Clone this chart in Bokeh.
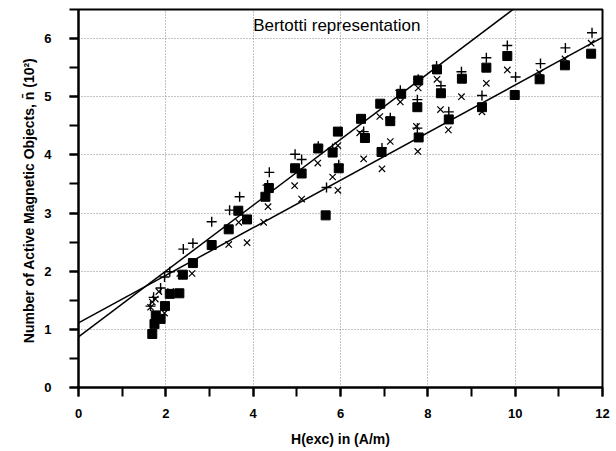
from bokeh.plotting import figure
from bokeh.models import Range1d, SingleIntervalTicker, FixedTicker
from bokeh.core.properties import value
from bokeh.embed import file_html
from bokeh.resources import INLINE

# filled squares
sq_x = [1.69, 1.74, 1.77, 1.88, 1.98, 2.09, 2.31, 2.39, 2.62, 3.05, 3.44, 3.66, 3.86, 4.28, 4.36,
        4.96, 5.11, 5.49, 5.66, 5.82, 5.94, 5.96, 6.47, 6.56, 6.91, 6.94, 7.14, 7.39, 7.76, 7.78,
        7.79, 8.21, 8.30, 8.48, 8.78, 9.24, 9.34, 9.82, 9.99, 10.56, 11.14, 11.74]
sq_y = [0.92, 1.09, 1.24, 1.18, 1.40, 1.61, 1.62, 1.94, 2.14, 2.45, 2.72, 3.04, 2.89, 3.28, 3.43,
        3.77, 3.68, 4.11, 2.96, 4.04, 4.40, 3.77, 4.62, 4.29, 4.88, 4.05, 4.58, 5.05, 4.82, 5.28,
        4.30, 5.47, 5.06, 4.61, 5.31, 4.82, 5.50, 5.70, 5.03, 5.30, 5.54, 5.74]

# plus markers
pl_x = [1.65, 1.72, 1.88, 1.97, 2.09, 2.40, 2.62, 3.05, 3.46, 3.69, 4.33, 4.37, 4.96, 5.11, 5.49,
        5.68, 5.82, 5.96, 6.53, 6.95, 7.14, 7.37, 7.76, 7.76, 7.78, 8.20, 8.30, 8.48, 8.77, 9.24,
        9.34, 9.82, 10.01, 10.58, 11.15, 11.76]
pl_y = [1.40, 1.55, 1.71, 1.90, 1.99, 2.38, 2.48, 2.85, 3.05, 3.28, 3.48, 3.70, 4.01, 3.92, 4.15,
        3.44, 4.11, 3.83, 4.40, 4.12, 4.64, 5.11, 4.95, 4.46, 5.30, 5.53, 5.19, 4.74, 5.43, 5.02,
        5.67, 5.88, 5.34, 5.57, 5.84, 6.10]

# x markers
xx_x = [1.65, 1.69, 1.76, 1.84, 1.97, 2.11, 2.32, 2.60, 3.44, 3.67, 3.86, 4.24, 4.34, 4.95, 5.11,
        5.48, 5.82, 5.94, 5.94, 6.44, 6.53, 6.90, 6.95, 7.14, 7.37, 7.74, 7.77, 7.78, 8.21, 8.29,
        8.47, 8.77, 9.24, 9.34, 9.82, 10.56, 11.14, 11.74]
xx_y = [1.38, 1.47, 1.52, 1.65, 1.28, 1.65, 1.96, 1.96, 2.46, 2.84, 2.49, 2.84, 3.11, 3.47, 3.24,
        3.86, 3.62, 3.39, 4.16, 4.38, 3.93, 4.66, 3.76, 4.23, 4.91, 4.49, 4.06, 5.15, 5.30, 4.78,
        4.43, 5.00, 4.74, 5.23, 5.46, 5.41, 5.65, 5.92]

# fitted lines
fit_x = [0, 12]
fit_steep_y = [0.87, 7.66]
fit_shallow_y = [1.11, 6.02]

x_ticks = [0, 2, 4, 6, 8, 10, 12]
y_ticks = [0, 1, 2, 3, 4, 5, 6]

FONT = "Liberation Sans"

p = figure(width=616, height=451, output_backend="svg", toolbar_location=None,
           x_range=Range1d(0, 12), y_range=Range1d(0, 6.5),
           min_border_left=78, min_border_right=14, min_border_top=9, min_border_bottom=64)
p.background_fill_color = "white"
p.border_fill_color = "white"
p.outline_line_color = "black"
p.outline_line_width = 2

p.xaxis.ticker = SingleIntervalTicker(interval=2, num_minor_ticks=2)
p.yaxis.ticker = SingleIntervalTicker(interval=1, num_minor_ticks=2)

for ax in (p.xaxis[0], p.yaxis[0]):
    ax.axis_line_color = "black"
    ax.axis_line_width = 2
    ax.major_tick_line_color = "black"
    ax.minor_tick_line_color = "black"
    ax.major_tick_line_width = 2
    ax.minor_tick_line_width = 2
    ax.major_tick_in = 0
    ax.major_tick_out = 9
    ax.minor_tick_in = 0
    ax.minor_tick_out = 9
    ax.major_label_text_font = FONT
    ax.major_label_text_font_size = "13px"
    ax.major_label_text_font_style = "bold"
    ax.major_label_text_color = "black"
    ax.axis_label_text_font = FONT
    ax.axis_label_text_font_size = "14px"
    ax.axis_label_text_font_style = "bold"
    ax.axis_label_text_color = "black"

p.xaxis.axis_label = "H(exc) in (A/m)"
p.yaxis.axis_label = "Number of Active Magnetic Objects, n\u0304  (10\u00b2)"
p.xaxis.major_label_standoff = 12
p.yaxis.major_label_standoff = 18
p.xaxis.axis_label_standoff = 10
p.yaxis.axis_label_standoff = 4

for g in (p.xgrid[0], p.ygrid[0]):
    g.grid_line_color = "#888888"
    g.grid_line_dash = "1 2"
    g.grid_line_width = 1
p.xgrid.ticker = FixedTicker(ticks=x_ticks[1:-1])
p.ygrid.ticker = FixedTicker(ticks=y_ticks[1:])

p.line(fit_x, fit_steep_y, line_color="black", line_width=1.5)
p.line(fit_x, fit_shallow_y, line_color="black", line_width=1.5)

p.scatter(sq_x, sq_y, marker="square", size=9, fill_color="black", line_color="black")
p.scatter(pl_x, pl_y, marker="cross", size=10, line_color="black", line_width=1.4)
p.scatter(xx_x, xx_y, marker="x", size=9, line_color="black", line_width=1.2)

p.text(x=[4.0], y=[6.22], text=["Bertotti representation"], text_font=value(FONT),
       text_font_size="17px", text_baseline="middle", text_align="left", text_color="black")

open("out.html", "w").write(file_html(p, INLINE))
